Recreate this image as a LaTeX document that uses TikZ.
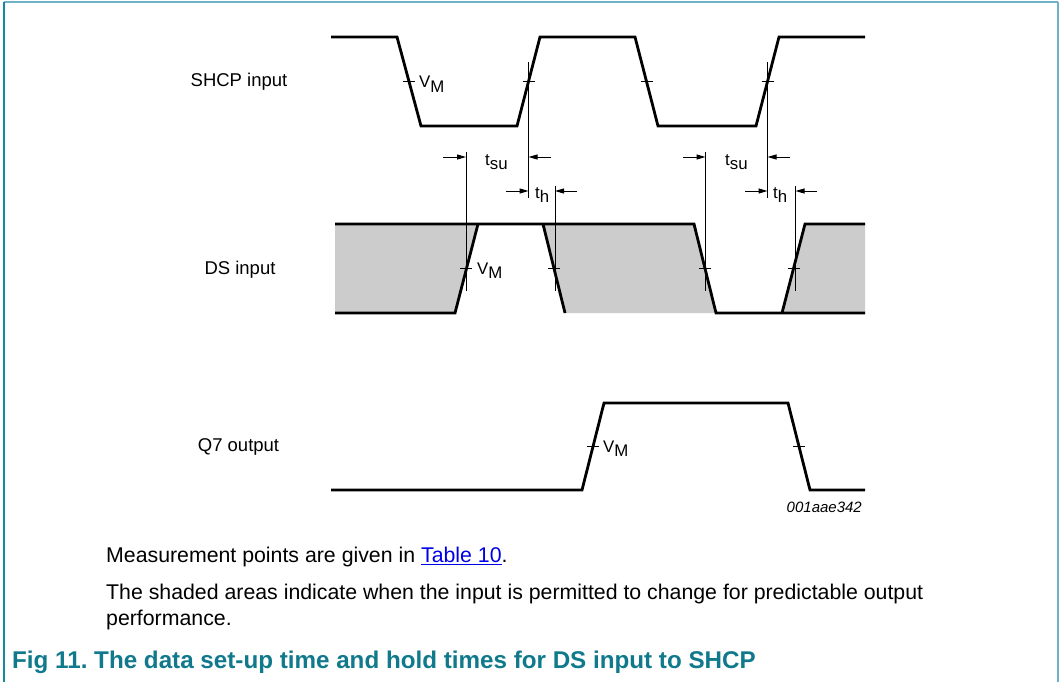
\documentclass[tikz,border=0pt]{standalone}
\usepackage{fontspec}
\setmainfont{Liberation Sans}
\usetikzlibrary{arrows.meta}
\definecolor{headteal}{RGB}{16,122,140}
\definecolor{borderL}{RGB}{20,138,160}
\definecolor{borderT}{RGB}{110,178,196}
\definecolor{shadegray}{RGB}{204,204,204}
\definecolor{linkblue}{RGB}{0,0,230}
\newcommand{\sublab}[2]{#1\raisebox{-0.28em}{#2}}
\begin{document}
\frenchspacing
\begin{tikzpicture}[x=1pt,y=-1pt,
  wave/.style={line width=2.8pt},
  thinline/.style={line width=1pt},
  tickmark/.style={line width=1pt},
  dimarrow/.style={line width=1pt,-{Triangle[length=9pt,width=5pt]}},
  rowlabel/.style={font=\fontsize{18.5}{21}\selectfont, inner sep=0pt, anchor=center},
  siglabel/.style={font=\fontsize{16.8}{19}\selectfont, inner sep=0pt, anchor=base west},
  bodytext/.style={font=\fontsize{21.3}{25}\selectfont, inner sep=0pt, anchor=west},
  headtext/.style={font=\fontsize{24.2}{28}\selectfont\bfseries, text=headteal, inner sep=0pt, anchor=west},
  shadearea/.style={fill=shadegray, draw=none}]
\fill[white] (0,0) rectangle (1059,682);
\useasboundingbox (0,0) rectangle (1059,682);
% frame
\draw[borderT, line width=2pt] (4,2) -- (1057.5,2);
\draw[borderL, line width=2pt] (4,2) -- (4,682);
\draw[borderT, line width=2pt] (1057.5,2) -- (1057.5,682);

% row labels
\node[rowlabel] (lshcp) at (239,82) {SHCP input};
\node[rowlabel] (lds) at (240,270) {DS input};
\node[rowlabel] (lq7) at (238.5,447) {Q7 output};

% SHCP waveform
\draw[wave] (331,37) -- (397,37) -- (421,126) -- (517,126) -- (540,37) -- (635,37) -- (658,126) -- (756,126) -- (779,37) -- (865,37);
\foreach \x in {409,528.5,646.5,767.5} \draw[tickmark] (\x-6,81.5) -- (\x+6,81.5);
\node[siglabel] (vm1) at (419,88) {\sublab{V}{M}};

% DS shaded areas
\fill[shadearea] (335,224) -- (478,224) -- (455,313) -- (335,313) -- cycle;
\fill[shadearea] (543,224) -- (694,224) -- (716,313) -- (565,313) -- cycle;
\fill[shadearea] (805,224) -- (865,224) -- (865,313) -- (782,313) -- cycle;
% DS lines
\draw[wave] (335,224) -- (694,224) -- (716,313) -- (865,313);
\draw[wave] (335,313) -- (455,313) -- (478,224);
\draw[wave] (543,224) -- (565,313);
\draw[wave] (782,313) -- (805,224) -- (865,224);
\foreach \x in {466,554,705,793.5} \draw[tickmark] (\x-6,268.5) -- (\x+6,268.5);
\node[siglabel] (vm2) at (477,274) {\sublab{V}{M}};

% timing reference lines
\coordinate (c1t) at (528.5,62);  \coordinate (c1b) at (528.5,198);
\coordinate (c2t) at (767.5,62);  \coordinate (c2b) at (767.5,198);
\coordinate (s1t) at (466,152);   \coordinate (s1b) at (466,291);
\coordinate (h1t) at (555,186);   \coordinate (h1b) at (555,291);
\coordinate (s2t) at (705.5,152); \coordinate (s2b) at (705.5,291);
\coordinate (h2t) at (795.5,186); \coordinate (h2b) at (795.5,291);
\foreach \a/\b in {c1t/c1b,c2t/c2b,s1t/s1b,h1t/h1b,s2t/s2b,h2t/h2b} \draw[thinline] (\a) -- (\b);

% dimension arrows
\coordinate (a1) at (443,157);   \coordinate (a1e) at (466,157);
\coordinate (a2) at (551,157);   \coordinate (a2e) at (528.5,157);
\coordinate (a3) at (506,191);   \coordinate (a3e) at (528.5,191);
\coordinate (a4) at (577,191);   \coordinate (a4e) at (555,191);
\coordinate (b1) at (683,157);   \coordinate (b1e) at (705.5,157);
\coordinate (b2) at (790,157);   \coordinate (b2e) at (767.5,157);
\coordinate (b3) at (745,191);   \coordinate (b3e) at (767.5,191);
\coordinate (b4) at (817,191);   \coordinate (b4e) at (795.5,191);
\foreach \a in {a1,a2,a3,a4,b1,b2,b3,b4} \draw[dimarrow] (\a) -- (\a e);
\node[siglabel] (tsu1) at (485,165) {\sublab{t}{su}};
\node[siglabel] (th1) at (535,198) {\sublab{t}{h}};
\node[siglabel] (tsu2) at (725,165) {\sublab{t}{su}};
\node[siglabel] (th2) at (773,198) {\sublab{t}{h}};

% Q7 waveform
\draw[wave] (331,490) -- (582,490) -- (604,403) -- (788,403) -- (810,490) -- (865,490);
\foreach \x in {593,799} \draw[tickmark] (\x-6,446.5) -- (\x+6,446.5);
\node[siglabel] (vm3) at (603,452) {\sublab{V}{M}};
\node[font=\fontsize{15}{18}\selectfont\itshape, inner sep=0pt, anchor=east] (code) at (862,507) {001aae342};

% notes
\node[bodytext] (note1) at (106,557) {Measurement points are given in {\color{linkblue}\underline{Table 10}}.};
\node[bodytext] (note2) at (106,594) {The shaded areas indicate when the input is permitted to change for predictable output};
\node[bodytext] (note3) at (106,620) {performance.};
\node[headtext] (title) at (12,662) {Fig 11. The data set-up time and hold times for DS input to SHCP};
\end{tikzpicture}
\end{document}
